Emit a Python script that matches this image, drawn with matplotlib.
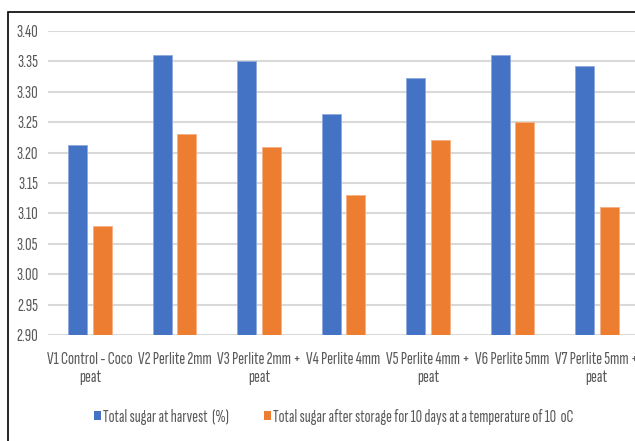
import numpy as np
import matplotlib
matplotlib.use("Agg")
import matplotlib.pyplot as plt
from matplotlib.patches import Rectangle, Patch

plt.rcParams['font.family'] = ['Sofia Sans Extra Condensed', 'DejaVu Sans']

categories = ["V1 Control - Coco\npeat", "V2 Perlite 2mm", "V3 Perlite 2mm +\npeat",
              "V4 Perlite 4mm", "V5 Perlite 4mm +\npeat", "V6 Perlite 5mm",
              "V7 Perlite 5mm +\npeat"]
sugar_harvest = [3.213, 3.36, 3.35, 3.263, 3.323, 3.36, 3.343]
sugar_storage = [3.08, 3.23, 3.21, 3.13, 3.22, 3.25, 3.11]
yticks = [2.90, 2.95, 3.00, 3.05, 3.10, 3.15, 3.20, 3.25, 3.30, 3.35, 3.40]

blue = "#4472c4"
orange = "#ed7d31"
grey = "#595959"

W, H = 635, 441
fig = plt.figure(figsize=(W / 100, H / 100), dpi=100)
ax = fig.add_axes([48 / W, 1 - 335 / H, 591 / W, 304 / H])

x = np.arange(len(categories))
bw = 0.225
ax.bar(x - 0.145, sugar_harvest, bw, color=blue, edgecolor="#8faadc",
       linewidth=0.6, zorder=3)
ax.bar(x + 0.145, sugar_storage, bw, color=orange, edgecolor="#f4b183",
       linewidth=0.6, zorder=3)

ax.set_xlim(-0.5, len(categories) - 0.5)
ax.set_ylim(2.90, 3.40)
ax.set_yticks(yticks)
ax.set_yticklabels([f"{v:.2f}" for v in yticks], color=grey, fontsize=13)
ax.set_xticks(x)
ax.set_xticklabels(categories, color=grey, fontsize=13, linespacing=1.3,
                   va="top")
ax.tick_params(length=0)
ax.tick_params(axis="y", pad=7)
ax.tick_params(axis="x", pad=12)
ax.grid(axis="y", color="#d9d9d9", linewidth=1.5, zorder=0)
for s in ax.spines.values():
    s.set_visible(False)

# chart border, only the top and left edges fall inside the image
fig.patches.append(Rectangle((8 / W, -0.1), 1.2, 1 - 12 / H + 0.1,
                             transform=fig.transFigure, fill=False,
                             edgecolor="black", linewidth=1.2))

handles = [Patch(facecolor=blue, label="Total sugar at harvest  (%)"),
           Patch(facecolor=orange,
                 label="Total sugar after storage for 10 days at a temperature of 10  oC")]
fig.legend(handles=handles, loc="center left", bbox_to_anchor=(94 / W, 1 - 417 / H),
           ncol=2, frameon=False, fontsize=12.7, handlelength=0.4,
           handleheight=0.45, handletextpad=0.12, columnspacing=2.0,
           borderpad=0, borderaxespad=0, labelcolor=grey)

fig.savefig("out.png", dpi=100)
